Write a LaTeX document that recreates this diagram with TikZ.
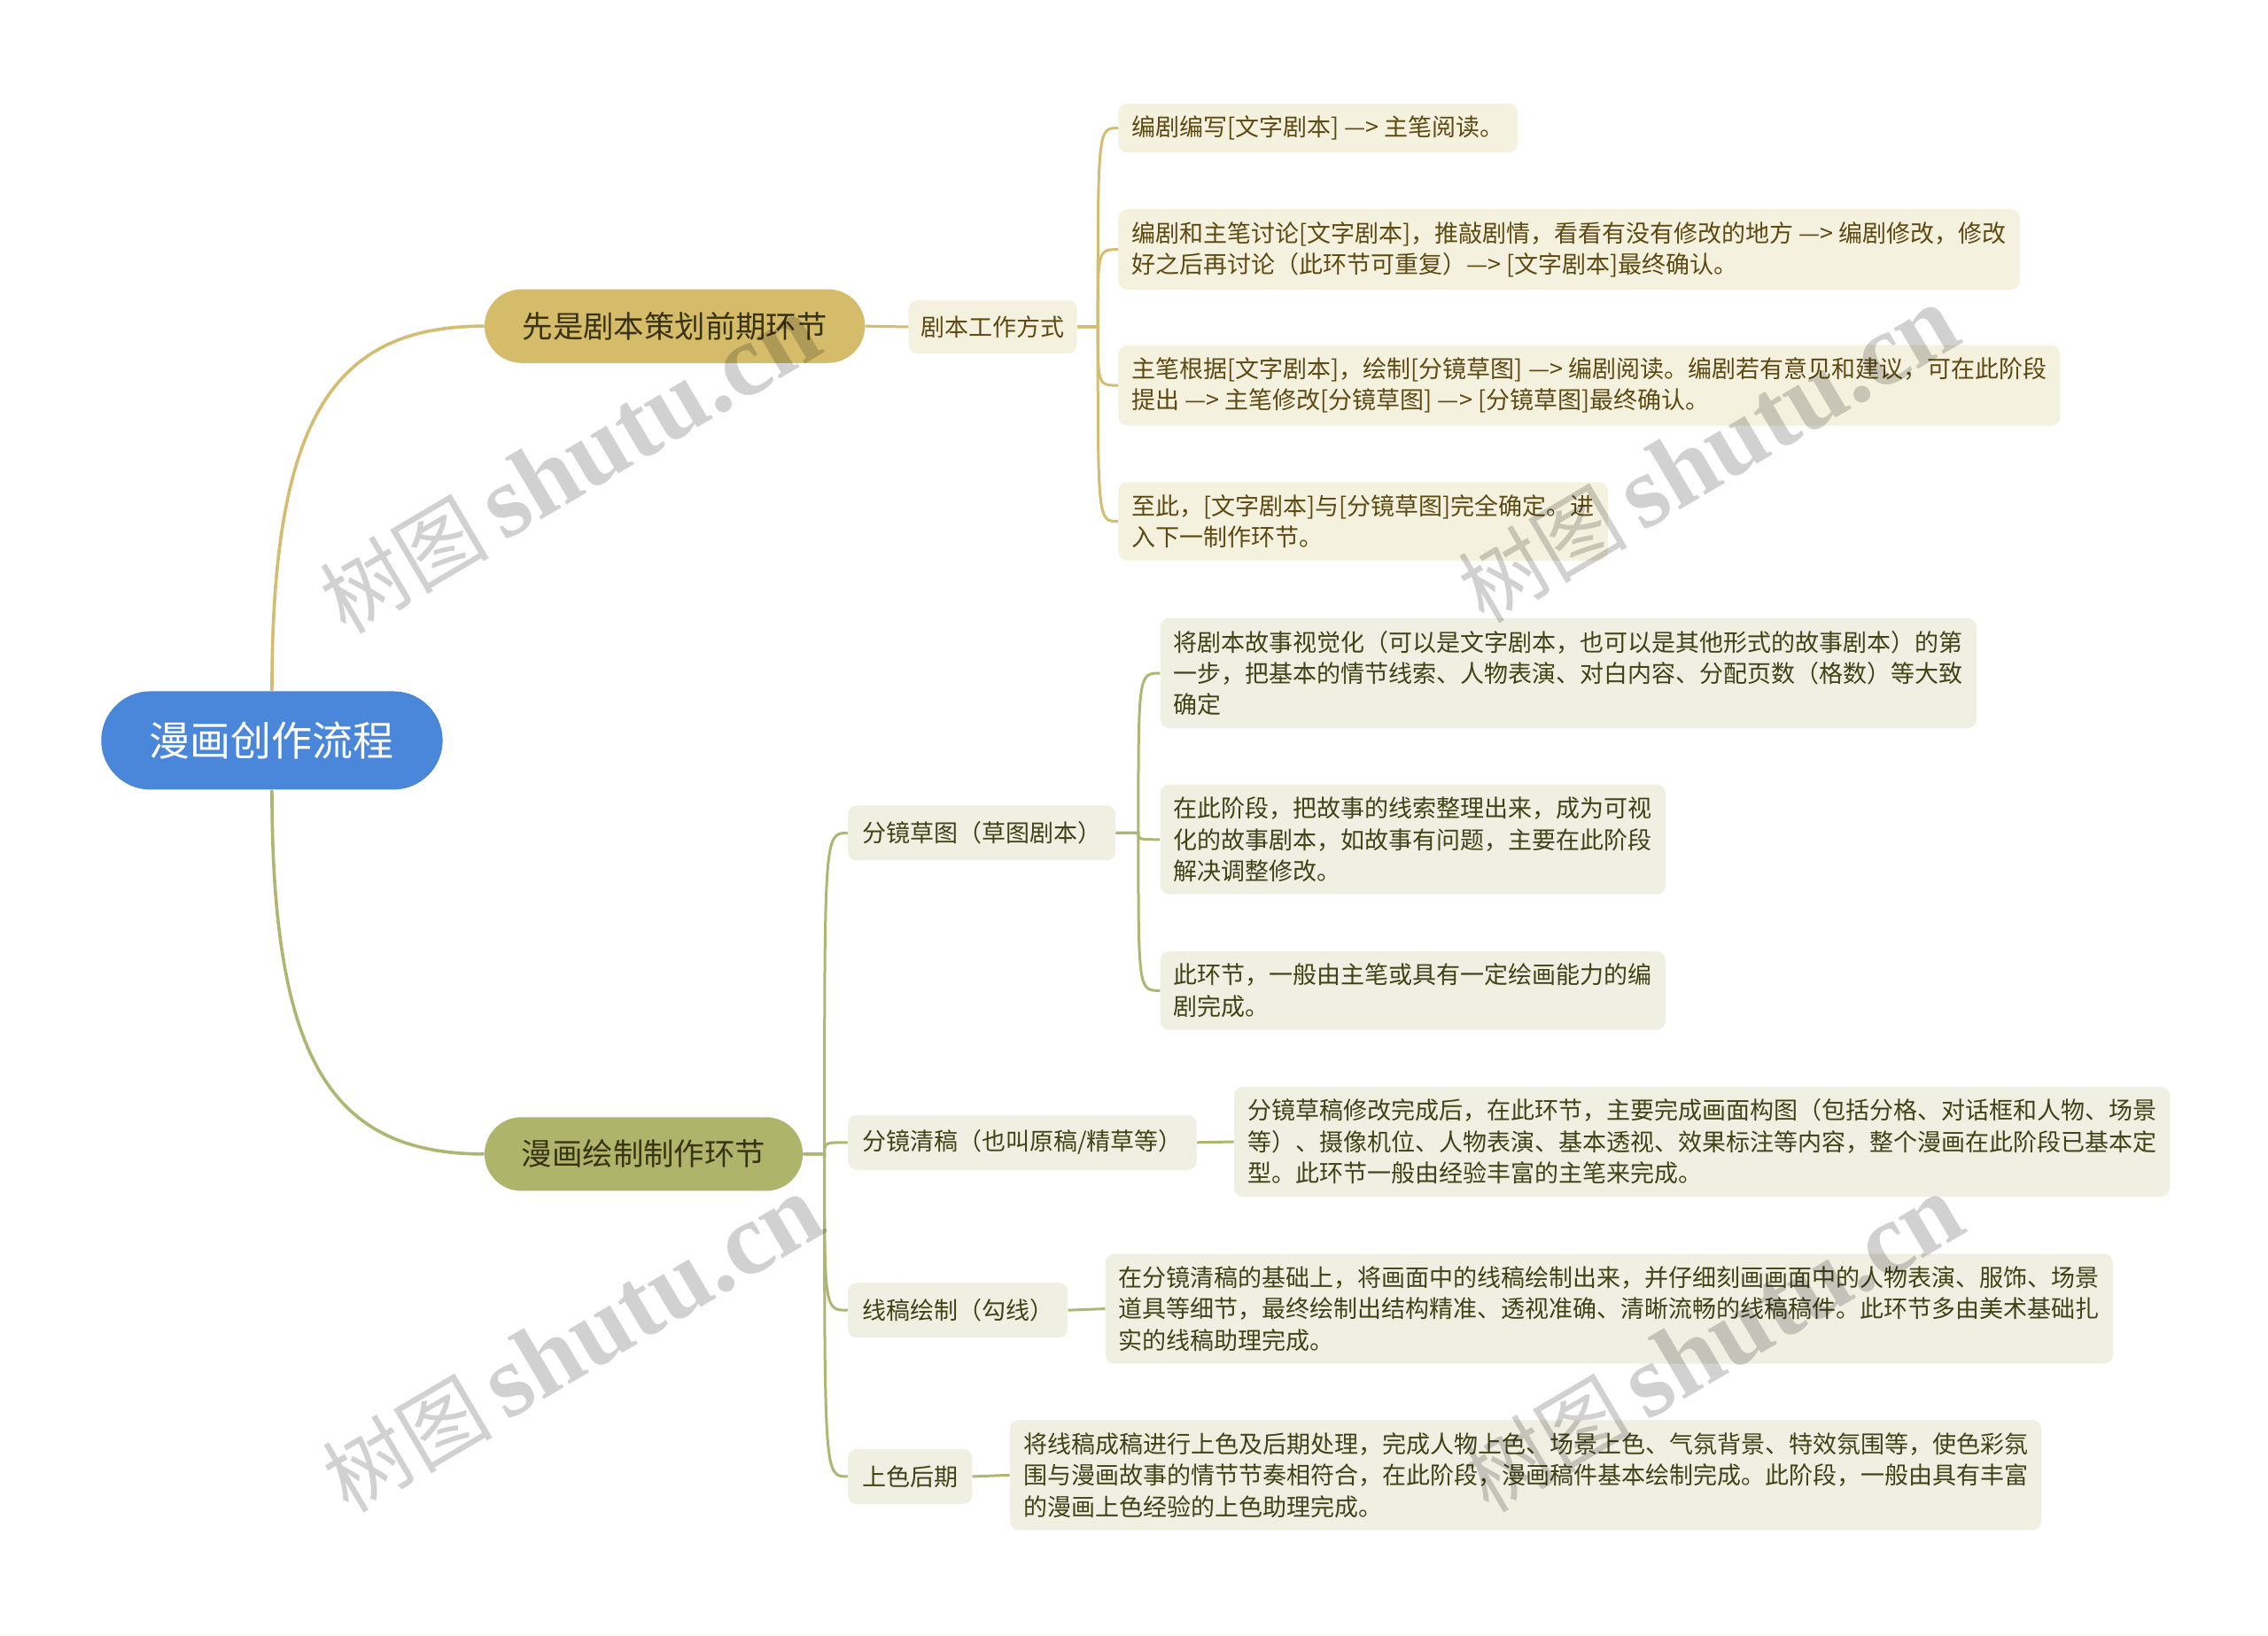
\documentclass[tikz,border=0pt]{standalone}
\usepackage{fontspec}
\setmainfont{Noto Sans CJK SC}
\newfontfamily\wmserif{Liberation Serif}
\usetikzlibrary{shapes.misc,calc}
\definecolor{rootblue}{HTML}{4A86D9}
\definecolor{goldfill}{HTML}{D4BC6A}
\definecolor{olivefill}{HTML}{AEB56A}
\definecolor{goldline}{HTML}{D2BD72}
\definecolor{oliveline}{HTML}{AEB672}
\definecolor{creamA}{HTML}{F5F1DF}
\definecolor{creamB}{HTML}{EFEFE2}
\definecolor{textA}{HTML}{5C4A12}
\definecolor{textB}{HTML}{3F4316}
\definecolor{textbr}{HTML}{3A3214}
\tikzset{
  rootbox/.style={rounded rectangle, fill=rootblue, text=white, minimum width=192.7pt, minimum height=55.5pt, font=\fontsize{23pt}{27pt}\selectfont, inner sep=0pt},
  branchA/.style={rounded rectangle, fill=goldfill, text=textbr, minimum height=41.6pt, font=\fontsize{17.2pt}{20pt}\selectfont, inner sep=0pt},
  branchB/.style={rounded rectangle, fill=olivefill, text=textbr, minimum height=41.6pt, font=\fontsize{17.2pt}{20pt}\selectfont, inner sep=0pt},
  subA/.style={rectangle, rounded corners=5pt, fill=creamA, text=textA, anchor=west, minimum height=30pt, inner xsep=7pt, inner ysep=0pt, font=\fontsize{13.5pt}{17.7pt}\selectfont},
  subB/.style={subA, fill=creamB, text=textB, minimum height=31pt, inner xsep=8pt},
  leafA/.style={rectangle, rounded corners=5pt, fill=creamA, text=textA, anchor=west, align=left, inner xsep=7.5pt, inner ysep=7pt, font=\fontsize{13.5pt}{17.7pt}\selectfont},
  leafB/.style={leafA, fill=creamB, text=textB},
  linkA/.style={draw=goldline, line width=1.5pt},
  linkB/.style={draw=oliveline, line width=1.5pt},
  wmark/.style={text=black, opacity=0.18, rotate=30.5, inner sep=0pt}
}
\begin{document}
\begin{tikzpicture}[x=0.81633pt, y=-0.81633pt]
\useasboundingbox[fill=white] (0,0) rectangle (1568,1131);

% main nodes
\node[rootbox] (root) at (188,512) {漫画创作流程};
\node[branchA, minimum width=214.7pt] (B1) at (466.5,225.5) {先是剧本策划前期环节};
\node[branchB, minimum width=179.6pt] (B2) at (445,798) {漫画绘制制作环节};

% branch 1
\node[subA] (jb) at (628,226) {剧本工作方式};
\node[leafA] (L1) at (773,88.5) {编剧编写[文字剧本] —> 主笔阅读。};
\node[leafA] (L2) at (773,172.5) {编剧和主笔讨论[文字剧本]，推敲剧情，看看有没有修改的地方 —> 编剧修改，修改\\好之后再讨论（此环节可重复）—> [文字剧本]最终确认。};
\node[leafA] (L3) at (773,266.5) {主笔根据[文字剧本]，绘制[分镜草图] —> 编剧阅读。编剧若有意见和建议，可在此阶段\\提出 —> 主笔修改[分镜草图] —> [分镜草图]最终确认。};
\node[leafA] (L4) at (773,360.5) {至此，[文字剧本]与[分镜草图]完全确定。进\\入下一制作环节。};

% branch 2
\node[subB] (S1) at (586,576) {分镜草图（草图剧本）};
\node[subB] (S2) at (586,790) {分镜清稿（也叫原稿/精草等）};
\node[subB] (S3) at (586,906) {线稿绘制（勾线）};
\node[subB] (S4) at (586,1021) {上色后期};

\node[leafB] (A1) at (802,465.5) {将剧本故事视觉化（可以是文字剧本，也可以是其他形式的故事剧本）的第\\一步，把基本的情节线索、人物表演、对白内容、分配页数（格数）等大致\\确定};
\node[leafB] (A2) at (802,580.5) {在此阶段，把故事的线索整理出来，成为可视\\化的故事剧本，如故事有问题，主要在此阶段\\解决调整修改。};
\node[leafB] (A3) at (802,685) {此环节，一般由主笔或具有一定绘画能力的编\\剧完成。};
\node[leafB] (C2) at (853,789.5) {分镜草稿修改完成后，在此环节，主要完成画面构图（包括分格、对话框和人物、场景\\等）、摄像机位、人物表演、基本透视、效果标注等内容，整个漫画在此阶段已基本定\\型。此环节一般由经验丰富的主笔来完成。};
\node[leafB] (C3) at (764,905) {在分镜清稿的基础上，将画面中的线稿绘制出来，并仔细刻画画面中的人物表演、服饰、场景\\道具等细节，最终绘制出结构精准、透视准确、清晰流畅的线稿稿件。此环节多由美术基础扎\\实的线稿助理完成。};
\node[leafB] (C4) at (698,1020) {将线稿成稿进行上色及后期处理，完成人物上色、场景上色、气氛背景、特效氛围等，使色彩氛\\围与漫画故事的情节节奏相符合，在此阶段，漫画稿件基本绘制完成。此阶段，一般由具有丰富\\的漫画上色经验的上色助理完成。};

% connectors
\draw[linkA, line width=1.8pt] (root.north) .. controls ($(root.north)+(0,-188)$) and ($(B1.west)+(-105,0)$) .. (B1.west);
\draw[linkB, line width=1.8pt] (root.south) .. controls ($(root.south)+(0,188)$) and ($(B2.west)+(-105,0)$) .. (B2.west);

\draw[linkA] (B1.east) -- (jb.west);
\coordinate (f1) at (759,226);
\foreach \n in {L1,L2,L3,L4}{
  \draw[linkA] (jb.east) -- (f1) .. controls (f1 |- \n.west) .. (\n.west);
}

\coordinate (f2) at (570,798);
\foreach \n in {S1,S2,S3,S4}{
  \draw[linkB] (B2.east) -- (f2) .. controls (f2 |- \n.west) .. (\n.west);
}
\coordinate (f3) at (787,576);
\foreach \n in {A1,A2,A3}{
  \draw[linkB] (S1.east) -- (f3) .. controls (f3 |- \n.west) .. (\n.west);
}
\draw[linkB] (S2.east) -- (C2.west);
\draw[linkB] (S3.east) -- (C3.west);
\draw[linkB] (S4.east) -- (C4.west);

% watermarks
\foreach \p/\q in {394/322, 1181/315, 396/930, 1184/930}{
  \node[wmark] at (\p,\q) {\fontsize{48pt}{52pt}\selectfont 树图\,{\wmserif\bfseries\fontsize{58pt}{62pt}\selectfont shutu.cn}};
}
\end{tikzpicture}
\end{document}
